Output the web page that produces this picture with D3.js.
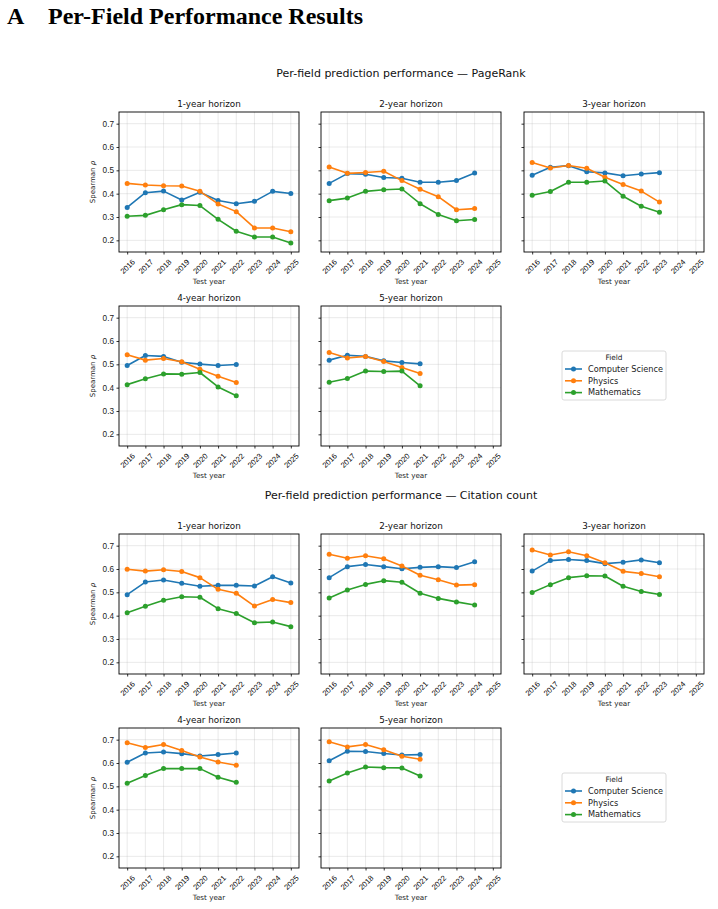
<!DOCTYPE html>
<html lang="en">
<head>
<meta charset="UTF-8" />
<title>Per-Field Performance Results</title>
<script src="https://d3js.org/d3.v7.min.js"></script>
<style>
  html, body { margin: 0; background: #fff; }
  svg { display: block; font-family: "DejaVu Sans", sans-serif; }
  .heading { font-family: "Liberation Serif", "Times New Roman", serif; font-weight: bold; }
</style>
</head>
<body>
<svg id="chart" width="718" height="909"></svg>
<script>
// ---- data ----
const years = [2016, 2017, 2018, 2019, 2020, 2021, 2022, 2023, 2024, 2025];
const fields = ['Computer Science', 'Physics', 'Mathematics'];
const fieldColors = ['#1f77b4', '#ff7f0e', '#2ca02c'];
const horizons = ['1-year horizon', '2-year horizon', '3-year horizon', '4-year horizon', '5-year horizon'];
const yTicks = [0.2, 0.3, 0.4, 0.5, 0.6, 0.7];

// PageRank: one array per horizon (1..5)
const pagerankCS = [
  [0.341, 0.404, 0.411, 0.373, 0.406, 0.371, 0.357, 0.367, 0.410, 0.401],
  [0.444, 0.486, 0.483, 0.469, 0.466, 0.449, 0.449, 0.456, 0.489],
  [0.479, 0.513, 0.520, 0.494, 0.489, 0.477, 0.484, 0.490],
  [0.495, 0.538, 0.534, 0.509, 0.501, 0.495, 0.499],
  [0.518, 0.539, 0.534, 0.515, 0.508, 0.502],
];
const pagerankPhys = [
  [0.444, 0.437, 0.434, 0.433, 0.410, 0.356, 0.323, 0.253, 0.253, 0.237],
  [0.514, 0.487, 0.491, 0.496, 0.456, 0.419, 0.387, 0.331, 0.336],
  [0.534, 0.510, 0.521, 0.509, 0.470, 0.439, 0.411, 0.364],
  [0.541, 0.518, 0.525, 0.511, 0.479, 0.449, 0.422],
  [0.551, 0.527, 0.534, 0.512, 0.486, 0.461],
];
const pagerankMath = [
  [0.303, 0.307, 0.331, 0.353, 0.349, 0.290, 0.239, 0.214, 0.214, 0.189],
  [0.370, 0.381, 0.410, 0.417, 0.420, 0.357, 0.311, 0.284, 0.289],
  [0.393, 0.409, 0.449, 0.449, 0.454, 0.389, 0.346, 0.320],
  [0.413, 0.438, 0.459, 0.458, 0.465, 0.403, 0.365],
  [0.423, 0.439, 0.471, 0.469, 0.471, 0.408],
];

// Citation count
const citationCS = [
  [0.490, 0.544, 0.553, 0.539, 0.526, 0.530, 0.530, 0.527, 0.567, 0.540],
  [0.563, 0.610, 0.619, 0.610, 0.601, 0.607, 0.610, 0.606, 0.631],
  [0.591, 0.636, 0.641, 0.636, 0.623, 0.629, 0.639, 0.627],
  [0.603, 0.643, 0.647, 0.640, 0.630, 0.636, 0.643],
  [0.610, 0.650, 0.649, 0.641, 0.634, 0.636],
];
const citationPhys = [
  [0.599, 0.591, 0.597, 0.589, 0.563, 0.513, 0.496, 0.441, 0.469, 0.456],
  [0.663, 0.646, 0.657, 0.644, 0.613, 0.573, 0.554, 0.531, 0.533],
  [0.681, 0.660, 0.674, 0.657, 0.627, 0.590, 0.581, 0.567],
  [0.687, 0.666, 0.679, 0.654, 0.626, 0.604, 0.590],
  [0.691, 0.669, 0.679, 0.657, 0.629, 0.616],
];
const citationMath = [
  [0.413, 0.440, 0.466, 0.481, 0.479, 0.430, 0.409, 0.370, 0.373, 0.353],
  [0.476, 0.510, 0.534, 0.550, 0.543, 0.496, 0.474, 0.459, 0.446],
  [0.499, 0.533, 0.563, 0.571, 0.570, 0.526, 0.504, 0.491],
  [0.513, 0.546, 0.576, 0.576, 0.576, 0.539, 0.517],
  [0.523, 0.557, 0.583, 0.580, 0.579, 0.544],
];

// ---- layout ----
const svg = d3.select('#chart');
const panelW = 180;
const panelH = 140;
const colX = [119, 321, 524];

const x = d3.scaleLinear().domain([2015.55, 2025.45]).range([0, panelW]);
const y = d3.scaleLinear().domain([0.15, 0.75]).range([panelH, 0]);

// heading
svg.append('text').attr('class', 'heading').attr('x', 7).attr('y', 24)
  .attr('font-size', 24).text('A');
svg.append('text').attr('class', 'heading').attr('x', 48).attr('y', 24)
  .attr('font-size', 24).text('Per-Field Performance Results');

const drawPanel = (x0, y0, title, series, showY) => {
  const g = svg.append('g').attr('transform', `translate(${x0},${y0})`);

  // grid
  g.selectAll('line.gx').data(years).enter().append('line')
    .attr('x1', (d) => x(d)).attr('x2', (d) => x(d))
    .attr('y1', 0).attr('y2', panelH)
    .attr('stroke', '#b0b0b0').attr('stroke-opacity', 0.3).attr('stroke-width', 0.9);
  g.selectAll('line.gy').data(yTicks).enter().append('line')
    .attr('x1', 0).attr('x2', panelW)
    .attr('y1', (d) => y(d)).attr('y2', (d) => y(d))
    .attr('stroke', '#b0b0b0').attr('stroke-opacity', 0.3).attr('stroke-width', 0.9);

  // axes
  const xa = g.append('g').attr('transform', `translate(0,${panelH})`)
    .call(d3.axisBottom(x).tickValues(years).tickFormat(d3.format('d')).tickSize(2.5).tickPadding(2));
  xa.select('.domain').remove();
  xa.selectAll('line').attr('stroke', '#000').attr('stroke-width', 0.8);
  xa.selectAll('text')
    .attr('font-size', 7.6).attr('fill', '#000')
    .attr('text-anchor', 'middle').attr('dy', '0.35em').attr('y', 0)
    .attr('transform', 'translate(0,14.5) rotate(-45)');

  const ya = g.append('g')
    .call(d3.axisLeft(y).tickValues(yTicks)
      .tickFormat(showY ? d3.format('.1f') : () => '').tickSize(2.5).tickPadding(2.5));
  ya.select('.domain').remove();
  ya.selectAll('line').attr('stroke', '#000').attr('stroke-width', 0.8);
  ya.selectAll('text').attr('font-size', 8.2).attr('fill', '#222');

  // frame
  g.append('rect').attr('width', panelW).attr('height', panelH)
    .attr('fill', 'none').attr('stroke', '#000').attr('stroke-width', 0.9);

  g.append('text').attr('x', panelW / 2).attr('y', -5).attr('text-anchor', 'middle')
    .attr('font-size', 8.8).attr('fill', '#111').text(title);
  g.append('text').attr('x', panelW / 2).attr('y', panelH + 32).attr('text-anchor', 'middle')
    .attr('font-size', 7.2).attr('fill', '#222').text('Test year');

  if (showY) {
    const lab = g.append('text')
      .attr('transform', `translate(-24,${panelH / 2}) rotate(-90)`)
      .attr('text-anchor', 'middle').attr('font-size', 7).attr('fill', '#222');
    lab.append('tspan').text('Spearman ');
    lab.append('tspan').attr('font-style', 'italic').text('ρ');
  }

  // series
  series.forEach((vals, k) => {
    const line = d3.line().x((d, i) => x(years[i])).y((d) => y(d));
    g.append('path').attr('d', line(vals))
      .attr('fill', 'none').attr('stroke', fieldColors[k]).attr('stroke-width', 1.6)
      .attr('stroke-linejoin', 'round');
    g.selectAll(null).data(vals).enter().append('circle')
      .attr('cx', (d, i) => x(years[i])).attr('cy', (d) => y(d))
      .attr('r', 2.5).attr('fill', fieldColors[k]);
  });
};

const drawLegend = (x0, y0) => {
  const g = svg.append('g').attr('transform', `translate(${x0},${y0})`);
  g.append('rect').attr('width', 104).attr('height', 49).attr('rx', 2)
    .attr('fill', '#fff').attr('stroke', '#d0d0d0').attr('stroke-width', 0.8);
  g.append('text').attr('x', 52).attr('y', 9).attr('text-anchor', 'middle')
    .attr('font-size', 7.4).attr('fill', '#222').text('Field');
  fields.forEach((f, i) => {
    const yy = 18 + i * 11.8;
    g.append('line').attr('x1', 3).attr('x2', 20).attr('y1', yy).attr('y2', yy)
      .attr('stroke', fieldColors[i]).attr('stroke-width', 1.6);
    g.append('circle').attr('cx', 11.5).attr('cy', yy).attr('r', 2.5).attr('fill', fieldColors[i]);
    g.append('text').attr('x', 26).attr('y', yy).attr('dy', '0.35em')
      .attr('font-size', 8.2).attr('fill', '#222').text(f);
  });
};

const drawFigure = (top, title, cs, phys, math) => {
  svg.append('text').attr('x', 401).attr('y', top - 35).attr('text-anchor', 'middle')
    .attr('font-size', 11).attr('fill', '#111').text(title);
  const rows = [top, top + 194];
  horizons.forEach((h, i) => {
    const r = Math.floor(i / 3);
    const c = i % 3;
    drawPanel(colX[c], rows[r], h, [cs[i], phys[i], math[i]], c === 0);
  });
  drawLegend(562, rows[1] + 45);
};

drawFigure(112, 'Per-field prediction performance — PageRank', pagerankCS, pagerankPhys, pagerankMath);
drawFigure(534, 'Per-field prediction performance — Citation count', citationCS, citationPhys, citationMath);
</script>
</body>
</html>
